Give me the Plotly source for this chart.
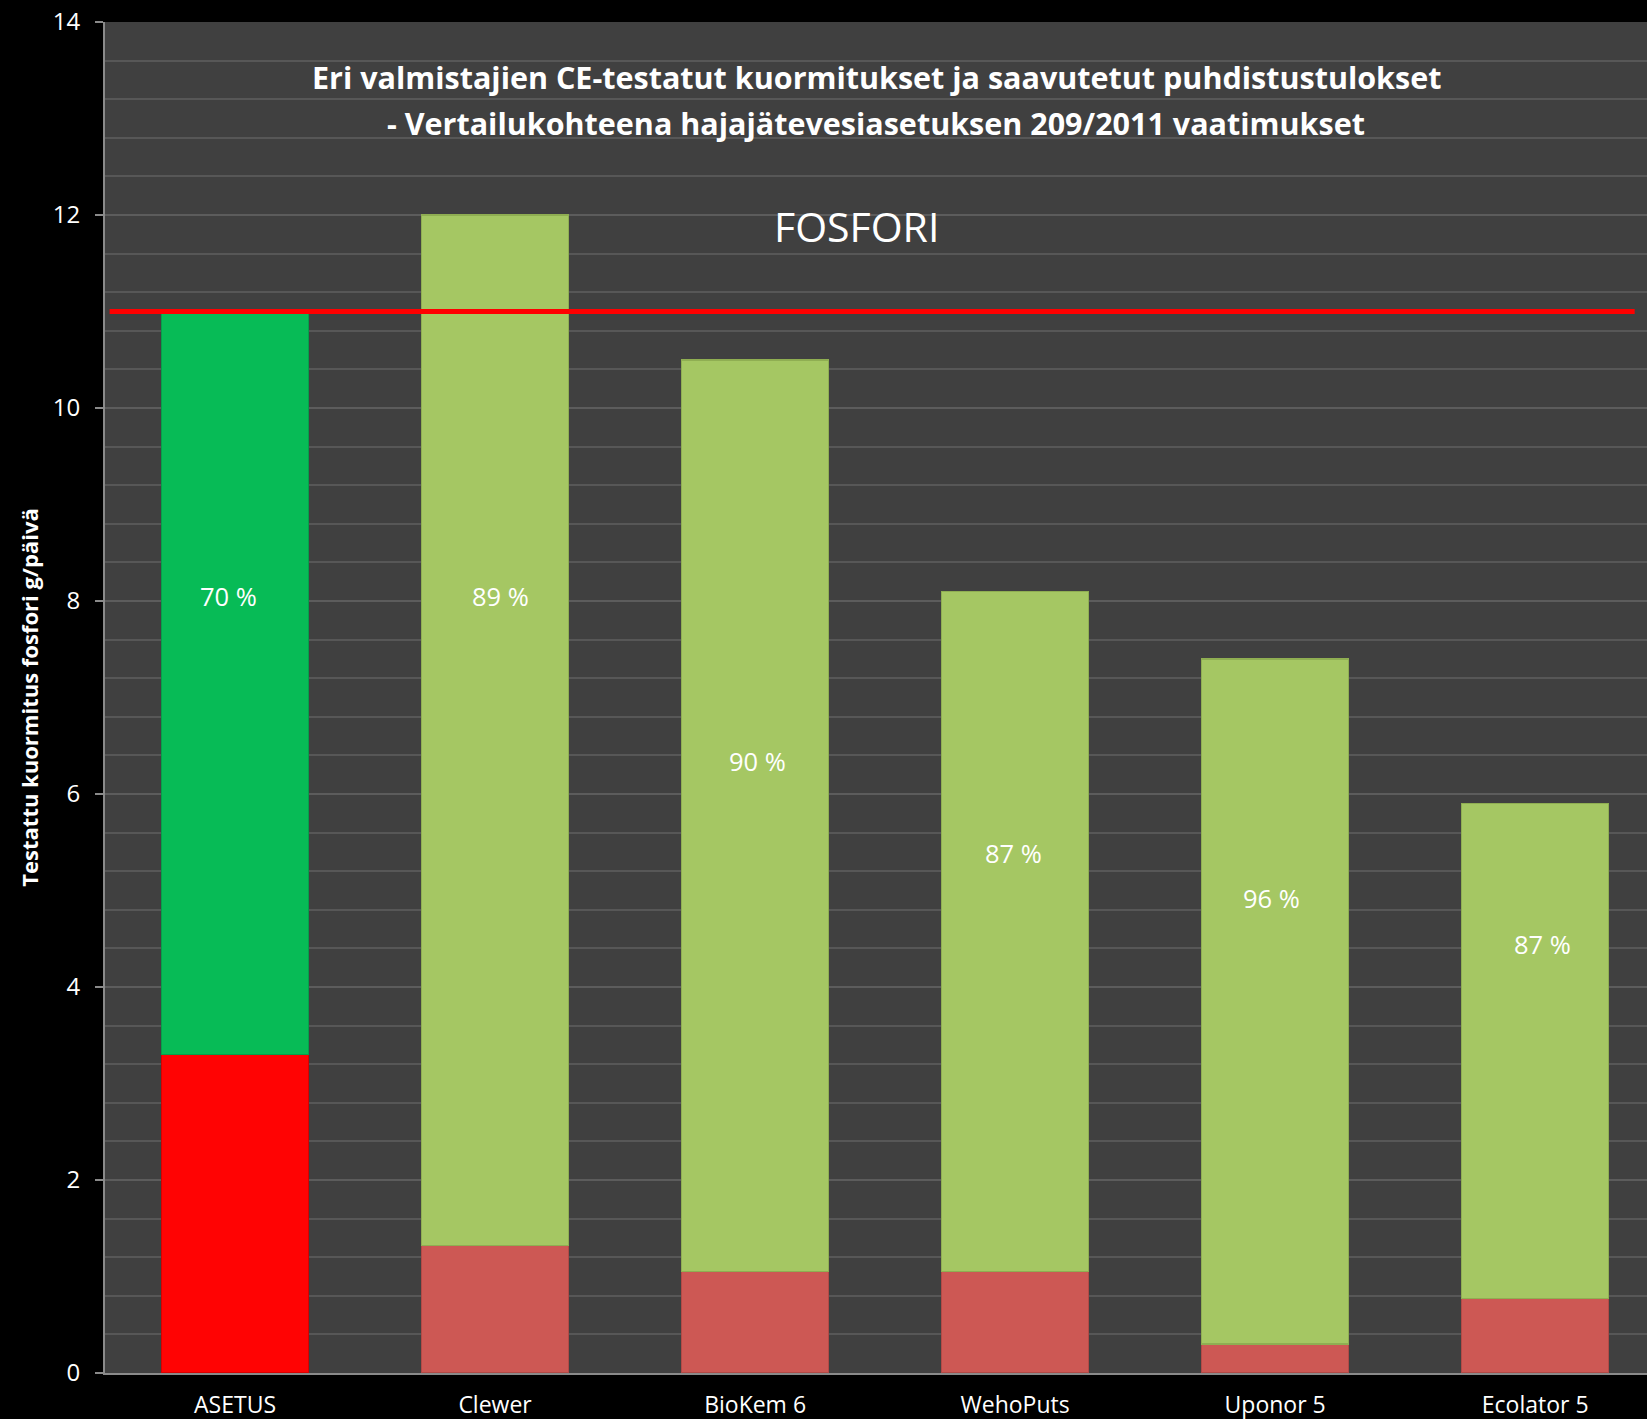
import plotly.graph_objects as go

categories = ["ASETUS", "Clewer", "BioKem 6", "WehoPuts", "Uponor 5", "Ecolator 5"]
totals = [11.0, 12.0, 10.5, 8.1, 7.4, 5.9]
remaining = [3.3, 1.32, 1.05, 1.05, 0.3, 0.77]
removed = [t - r for t, r in zip(totals, remaining)]
pct_labels = ["70 %", "89 %", "90 %", "87 %", "96 %", "87 %"]
label_y = [8.05, 8.05, 6.34, 5.39, 4.92, 4.45]
label_dx = [-7, 5, 2, -2, -4, 7]
requirement = 11.0

green_cols = ["#07BB56"] + ["#A5C763"] * 5
green_edge = ["#05a04a"] + ["#8fae52"] * 5
red_cols = ["#FF0303"] + ["#CD5854"] * 5
red_edge = ["#d90000"] + ["#b24a46"] * 5

fig = go.Figure()
fig.add_trace(go.Bar(x=categories, y=remaining, marker=dict(color=red_cols, line=dict(color=red_edge, width=1.5)),
                     hoverinfo="y", showlegend=False))
fig.add_trace(go.Bar(x=categories, y=removed, marker=dict(color=green_cols, line=dict(color=green_edge, width=1.5)),
                     hoverinfo="y", showlegend=False))

for c, t, yy, dx in zip(categories, pct_labels, label_y, label_dx):
    fig.add_annotation(x=c, y=yy, text=t, showarrow=False, xshift=dx,
                       font=dict(family="Open Sans", size=25.5, color="white"))

fig.add_shape(type="line", xref="paper", yref="y", x0=0.003, x1=0.992, y0=requirement, y1=requirement,
              line=dict(color="#FF0000", width=5))

fig.add_annotation(xref="paper", yref="paper", x=0.5, y=(1373 - 77) / 1351, yanchor="middle",
                   text="<b>Eri valmistajien CE-testatut kuormitukset ja saavutetut puhdistustulokset</b>",
                   showarrow=False, font=dict(family="Open Sans", size=30.5, color="white"))
fig.add_annotation(xref="paper", yref="paper", x=0.5, y=(1373 - 123) / 1351, yanchor="middle",
                   text="<b>- Vertailukohteena hajajätevesiasetuksen 209/2011 vaatimukset</b>",
                   showarrow=False, font=dict(family="Open Sans", size=30.5, color="white"))
fig.add_annotation(xref="paper", yref="paper", x=(856 - 105) / 1542, y=(1373 - 226) / 1351, yanchor="middle",
                   text="FOSFORI", showarrow=False, font=dict(family="Open Sans", size=41, color="white"))

fig.update_layout(
    width=1647, height=1419,
    margin=dict(l=105, r=0, t=22, b=46),
    paper_bgcolor="#000000", plot_bgcolor="#404040",
    barmode="stack", bargap=0.435,
    font=dict(family="Open Sans", color="white", size=24),
    xaxis=dict(showline=True, linecolor="#8a8a8a", linewidth=2, ticks="", showgrid=False,
               range=[-0.5, 5.43],
               tickfont=dict(size=23, color="white"), ticklabelstandoff=10),
    yaxis=dict(range=[0, 14], dtick=2, showline=True, linecolor="#8a8a8a", linewidth=2,
               ticks="outside", ticklen=8, tickcolor="#8a8a8a", tickwidth=2,
               gridcolor="#5c5c5c", gridwidth=2, zeroline=False,
               minor=dict(dtick=0.4, showgrid=True, gridcolor="#575757", gridwidth=1.5),
               tickfont=dict(size=24, color="white"), ticklabelstandoff=10,
               title=dict(text="<b>Testattu kuormitus fosfori g/päivä</b>", font=dict(size=22, color="white"), standoff=8)),
)

fig.write_html("out.html", config={"displayModeBar": False},
               post_script="document.body.style.margin='0';document.body.style.background='#000';")
